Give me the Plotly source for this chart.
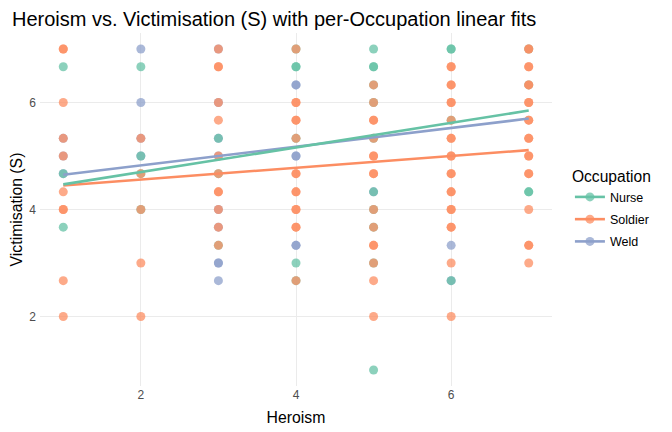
import plotly.graph_objects as go

occupations = ["Nurse", "Soldier", "Weld"]
draw_order = ["Weld", "Nurse", "Soldier"]
colors = {"Nurse": "#66c2a5", "Soldier": "#fc8d62", "Weld": "#8da0cb"}

nurse_x = [1, 1, 1, 2, 2, 2, 2, 3, 3, 3, 4, 4, 4, 4, 4, 4,
           5, 5, 5, 5, 5, 5, 5, 5, 5, 5, 5, 6, 6, 6, 6, 7, 7, 7, 7]
nurse_y = [6.67, 4.67, 3.67, 6.67, 5, 4.67, 4, 5.33, 4.67, 3.33, 7, 6.67, 6.67, 5.33, 3, 2.67,
           7, 6.67, 6.67, 6.33, 6, 5.33, 4.33, 4, 3.67, 3, 1, 7, 7, 5.67, 2.67, 7, 6.33, 4.33, 4.33]

soldier_x = ([1] * 10 + [2] * 5 + [3] * 12 + [4] * 15 + [5] * 16 + [6] * 21 + [7] * 20)
soldier_y = [7, 7, 6, 5.33, 5, 4.33, 4, 4, 2.67, 2,
             5.33, 4.67, 4, 3, 2,
             7, 6.67, 6.67, 6, 5.67, 5, 4.67, 4.33, 4.33, 4, 3.67, 3.33,
             7, 6, 6, 5.67, 5.67, 5.33, 4.67, 4.67, 4.33, 4.33, 4, 4, 3.67, 3.67, 2.67,
             6.33, 6, 5.67, 5.67, 5.33, 5, 5, 4.67, 4.67, 4, 3.67, 3.33, 3.33, 3, 2.67, 2,
             6.67, 6.67, 6.33, 6.33, 6, 6, 5.67, 5.33, 5.33, 5, 5, 4.67, 4.67, 4.33, 4.33,
             4, 4, 3.67, 3.67, 3, 2,
             7, 7, 6.67, 6.67, 6.33, 6.33, 6, 6, 5.67, 5.67, 5.33, 5.33, 5, 5, 4.67, 4.67,
             4, 3.33, 3.33, 3]

weld_x = [1, 1, 1, 2, 2, 2, 2, 3, 3, 3, 3, 3, 3, 3, 3, 3, 4, 4, 4, 4, 4, 4, 5, 6, 6]
weld_y = [5.33, 5, 4.67, 7, 6, 5.33, 5, 7, 6, 5.33, 5, 4, 3.67, 3, 3, 2.67,
          6.33, 6.33, 5, 5, 3.33, 3.33, 4.33, 3.33, 2.67]

# linear fit lines (values at Heroism = 1 and 7)
fit_x = [1, 7]
fit_nurse = [4.47, 5.85]
fit_soldier = [4.45, 5.11]
fit_weld = [4.65, 5.70]

points = {"Nurse": (nurse_x, nurse_y), "Soldier": (soldier_x, soldier_y), "Weld": (weld_x, weld_y)}
fits = {"Nurse": fit_nurse, "Soldier": fit_soldier, "Weld": fit_weld}

fig = go.Figure()
for occ in draw_order:
    xs, ys = points[occ]
    fig.add_trace(go.Scatter(x=xs, y=ys, mode="markers", name=occ, legendgroup=occ,
                             showlegend=False,
                             marker=dict(color=colors[occ], size=9, opacity=0.75, line=dict(width=0))))
for occ in ["Soldier", "Weld", "Nurse"]:
    fig.add_trace(go.Scatter(x=fit_x, y=fits[occ], mode="lines", name=occ, legendgroup=occ,
                             showlegend=False, line=dict(color=colors[occ], width=2.6)))
for occ in occupations:
    fig.add_trace(go.Scatter(x=[None], y=[None], mode="lines+markers", name=occ, legendgroup=occ,
                             line=dict(color=colors[occ], width=2.6),
                             marker=dict(color=colors[occ], size=9, opacity=0.75)))

font = "Liberation Sans, Arial, sans-serif"
W, H = 664, 424
fig.update_layout(
    width=W, height=H,
    margin=dict(l=32, r=120, t=25, b=46, autoexpand=False),
    paper_bgcolor="white", plot_bgcolor="white",
    font=dict(family=font, color="#000000"),
    title=dict(text="Heroism vs. Victimisation (S) with per-Occupation linear fits",
               x=4 / W, xanchor="left", y=1 - 4 / H, yanchor="top", pad=dict(t=0, b=0, l=0, r=0),
               font=dict(size=20, color="#000000")),
    xaxis=dict(range=[0.7, 7.3], tickvals=[2, 4, 6], ticktext=["2", "4", "6"],
               showgrid=True, gridcolor="#ebebeb", gridwidth=1.1, zeroline=False,
               showline=False, ticks="", tickfont=dict(size=12, color="#4d4d4d"),
               automargin=False,
               title=dict(text="Heroism", font=dict(size=15.8), standoff=10)),
    yaxis=dict(range=[0.7, 7.3], tickvals=[2, 4, 6], ticktext=["2", "4", "6"],
               showgrid=True, gridcolor="#ebebeb", gridwidth=1.1, zeroline=False,
               showline=False, ticks="", tickfont=dict(size=12, color="#4d4d4d"),
               ticklabelstandoff=3, automargin=False,
               title=dict(text="Victimisation (S)", font=dict(size=15.8), standoff=9)),
    legend=dict(x=1.035, xanchor="left", y=0.5, yanchor="middle",
                title=dict(text="Occupation", font=dict(size=15.6)),
                font=dict(size=12.5), itemwidth=30, tracegroupgap=3),
)

fig.write_html("out.html")
